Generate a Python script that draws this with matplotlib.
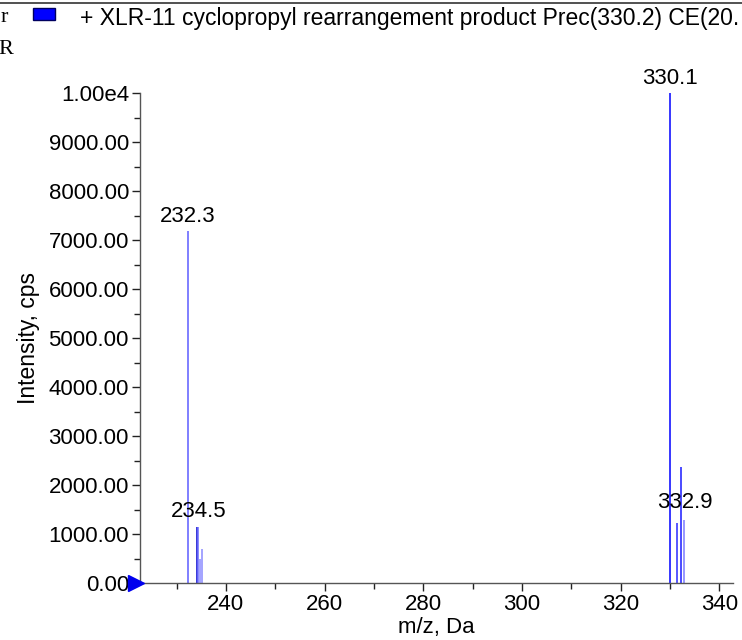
import matplotlib
matplotlib.use("Agg")
import matplotlib.pyplot as plt
from matplotlib.ticker import MultipleLocator, FixedLocator, FuncFormatter
import matplotlib.transforms as mtransforms

plt.rcParams['font.family'] = ['Liberation Sans', 'DejaVu Sans']

# ---- data ----
mz = [232.3, 234.1, 234.4, 234.8, 235.1, 330.1, 331.5, 332.2, 332.9]
intensity = [7180, 1150, 1150, 480, 690, 10000, 1230, 2370, 1290]
peak_colors = ['#5c5cff', '#0000cc', '#6a6aff', '#8a8aff', '#8a8aff',
               '#0000ff', '#2a2aff', '#1a1aff', '#7a7aff']
label_text = ['232.3', '330.1', '234.5', '332.9']
label_mz = [232.3, 330.1, 234.4, 333.0]
label_y = [7180, 10000, 1150, 1350]
y_ticks = [0, 1000, 2000, 3000, 4000, 5000, 6000, 7000, 8000, 9000, 10000]
x_ticks = [240, 260, 280, 300, 320, 340]
title = "+ XLR-11 cyclopropyl rearrangement product Prec(330.2) CE(20."

FS = 16

W, H = 742, 640
fig = plt.figure(figsize=(W / 100, H / 100), dpi=100)
ax = fig.add_axes([140 / W, 1 - 583 / H, (733 - 140) / W, (583 - 93) / H])

ax.vlines(mz, 0, intensity, colors=peak_colors, linewidth=1.1)

for t, x, y in zip(label_text, label_mz, label_y):
    ax.annotate(t, (x, y), xytext=(0, 3), textcoords='offset points',
                ha='center', va='bottom', fontsize=FS, color='black')

ax.set_xlim(222.6, 342.8)
ax.set_ylim(0, 10000)

ax.xaxis.set_major_locator(FixedLocator(x_ticks))
ax.xaxis.set_minor_locator(MultipleLocator(10))
ax.yaxis.set_major_locator(FixedLocator(y_ticks))
ax.yaxis.set_minor_locator(MultipleLocator(500))


def yfmt(v, pos):
    if v >= 10000:
        return "1.00e4"
    return "%.2f" % v


ax.yaxis.set_major_formatter(FuncFormatter(yfmt))

for s in ['top', 'right']:
    ax.spines[s].set_visible(False)
for s in ['left', 'bottom']:
    ax.spines[s].set_color('#555555')
    ax.spines[s].set_linewidth(1.0)

ax.tick_params(axis='both', which='major', direction='out', length=6,
               width=1, color='#222222', labelsize=FS, pad=2)
ax.tick_params(axis='both', which='minor', direction='out', length=4,
               width=1, color='#222222')

ax.set_xlabel("m/z, Da", fontsize=FS, labelpad=1)
ax.set_ylabel("Intensity, cps", fontsize=16.5, labelpad=6)

# baseline marker
trans = mtransforms.blended_transform_factory(ax.transAxes, ax.transData)
ax.plot([-0.006], [0], marker='>', color='#0000ee', markersize=11,
        transform=trans, clip_on=False, zorder=5)

# header
fig.add_artist(plt.Line2D([0, 1], [1 - 3 / H, 1 - 3 / H], color='#333333',
                          linewidth=1.2, transform=fig.transFigure))
fig.text(1 / W, 1 - 18 / H, "r", fontsize=FS, family='Liberation Serif',
         va='center', ha='left')
fig.text(-2 / W, 1 - 50 / H, "R", fontsize=FS, family='Liberation Serif',
         va='center', ha='left')
fig.add_artist(plt.Rectangle((33 / W, 1 - 20 / H), 22 / W, 12 / H,
                             facecolor='#0000ff', edgecolor='#000060',
                             linewidth=1, transform=fig.transFigure))
fig.text(80 / W, 1 - 18 / H, title, fontsize=16.5, va='center', ha='left')

fig.savefig("out.png", dpi=100)
